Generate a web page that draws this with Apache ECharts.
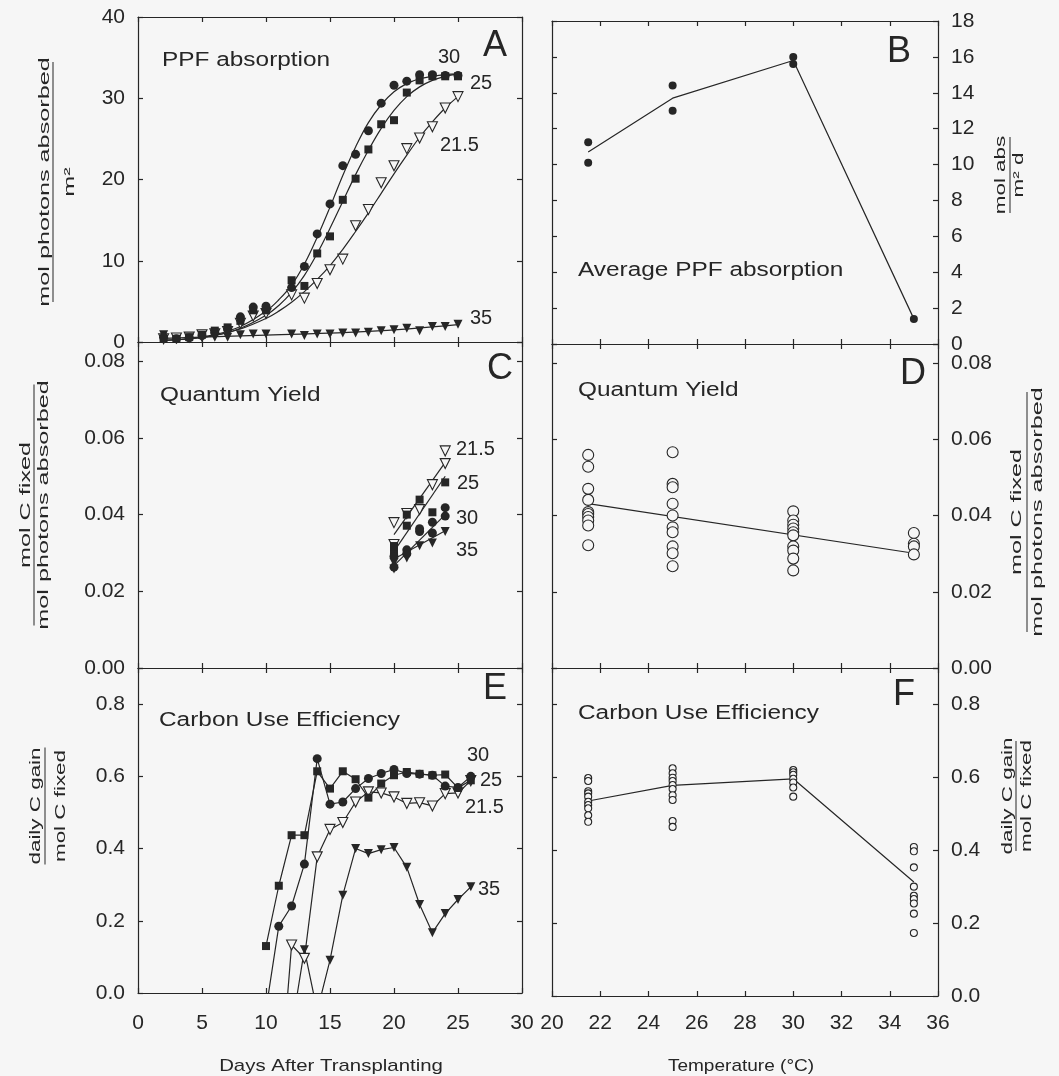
<!DOCTYPE html>
<html><head><meta charset="utf-8">
<script src="https://cdn.jsdelivr.net/npm/echarts/dist/echarts.min.js"></script>
<style>html,body{margin:0;padding:0;background:#f6f6f6}#c{width:1059px;height:1076px}</style>
</head><body><div id="c"></div>
<script>
// ---------- Panel A: PPF absorption vs days ----------
const daysA = [2,3,4,5,6,7,8,9,10,12,13,14,15,16,17,18,19,20,21,22,23,24,25];
const ppf30  = [0.6,0.4,0.5,0.8,1.2,1.6,3.1,4.3,4.4,6.7,9.3,13.3,17.0,21.7,23.1,26.0,29.4,31.6,32.1,32.9,32.9,32.8,32.8];
const ppf25  = [0.4,0.4,0.6,0.9,1.4,1.8,2.6,3.9,3.9,7.6,6.9,10.9,13.0,17.5,20.1,23.7,26.8,27.3,30.7,32.2,32.7,32.7,32.7];
const ppf215 = [0.4,0.5,0.6,0.9,1.0,1.3,2.3,3.2,3.5,5.8,5.4,7.2,8.9,10.2,14.3,16.3,19.6,21.7,23.8,25.1,26.5,28.8,30.2];
const ppf35  = [0.9,0.3,0.4,0.5,0.6,0.6,0.9,1.0,1.0,1.0,0.8,1.0,1.0,1.1,1.1,1.2,1.4,1.5,1.7,1.4,1.9,1.9,2.2];
const fitDays = [2,4,6,8,10,11,12,13,14,15,16,17,18,19,20,21,22,23,24,25];
const fit30  = [0.2,0.4,0.9,1.9,3.8,5.2,7.0,9.6,12.9,16.6,20.5,24.0,27.0,29.2,30.8,31.8,32.4,32.7,32.9,33.0];
const fit25  = [0.2,0.4,0.8,1.7,3.3,4.5,6.1,8.2,10.9,14.0,17.3,20.6,23.6,26.3,28.5,30.2,31.4,32.2,32.7,33.0];
const fit215 = [0.2,0.4,0.8,1.6,2.9,3.8,4.9,6.2,7.7,9.4,11.4,13.6,15.9,18.3,20.7,23.0,25.2,27.1,28.8,30.2];
const fit35Days = [2,10,18,25];
const fit35  = [0.45,0.85,1.3,2.15];

// ---------- Panel B: average PPF absorption vs temperature ----------
const tempB = [21.5,21.5,25,25,30,30,35];
const absB  = [11.25,10.1,14.4,13.0,16.0,15.6,1.4];
const tempMean = [21.5,25,30,35];
const absMean  = [10.7,13.7,15.8,1.4];

// ---------- Panel C: quantum yield vs days ----------
const qy215Days = [20,20,21,22,23,24,24];
const qy215     = [0.0379,0.0322,0.0403,0.0413,0.0478,0.0533,0.0566];
const qy25Days  = [20,20,21,21,22,23,24];
const qy25      = [0.0302,0.0318,0.0371,0.0400,0.0439,0.0406,0.0484];
const qy30Days  = [20,20,21,21,22,22,23,23,24,24];
const qy30      = [0.0291,0.0263,0.0308,0.0298,0.0363,0.0356,0.0380,0.0352,0.0418,0.0396];
const qy35Days  = [20,20,21,22,23,24];
const qy35      = [0.0275,0.0258,0.0287,0.0319,0.0326,0.0356];
const regDays = [20,24];
const reg215 = [0.0348,0.0536];
const reg25  = [0.0304,0.0500];
const reg30  = [0.0267,0.0400];
const reg35  = [0.0284,0.0358];

// ---------- Panel D: quantum yield vs temperature ----------
const qyD215 = [0.0559,0.0528,0.0470,0.0441,0.0409,0.0404,0.0396,0.0387,0.0374,0.0322];
const qyD25  = [0.0566,0.0483,0.0474,0.0431,0.0400,0.0369,0.0356,0.0319,0.0301,0.0267];
const qyD30  = [0.0411,0.0387,0.0376,0.0366,0.0356,0.0348,0.0319,0.0308,0.0287,0.0256];
const qyD35  = [0.0354,0.0326,0.0319,0.0298];
const qyLineT = [21.5,35];
const qyLine  = [0.0431,0.0301];

// ---------- Panel E: carbon use efficiency vs days ----------
const daysE = [10,11,12,13,14,15,16,17,18,19,20,21,22,23,24,25,26];
const cue25  = [0.130,0.297,0.437,0.437,0.614,0.566,0.614,0.592,0.541,0.580,0.603,0.612,0.607,0.603,0.605,0.568,0.589];
const cue30  = [-0.046,0.185,0.241,0.357,0.649,0.523,0.529,0.566,0.594,0.608,0.619,0.608,0.606,0.603,0.573,0.569,0.600];
const cue215 = [null,-0.31,0.133,0.096,0.377,0.453,0.472,0.529,0.557,0.554,0.543,0.525,0.527,0.518,0.552,0.554,0.588];
const cue35  = [null,null,-0.10,0.120,-0.05,0.091,0.271,0.400,0.386,0.397,0.403,0.348,0.245,0.167,0.220,0.259,0.294];

// ---------- Panel F: carbon use efficiency vs temperature ----------
const cueF215 = [0.598,0.590,0.562,0.556,0.547,0.533,0.524,0.515,0.496,0.478];
const cueF25  = [0.625,0.611,0.599,0.590,0.579,0.568,0.551,0.538,0.480,0.464];
const cueF30  = [0.620,0.614,0.607,0.596,0.586,0.572,0.547];
const cueF35  = [0.409,0.397,0.353,0.300,0.275,0.266,0.254,0.226,0.173];
const cueLineT = [21.5,25,30,35];
const cueLine  = [0.535,0.578,0.596,0.313];

// ---------- tick labels ----------
const xTicksDays = {min:0, max:30, interval:5};
const xTicksTemp = {min:20, max:36, interval:2};

const INK = '#262626', BG = '#f6f6f6', FF = '"Liberation Sans", Arial, sans-serif';
const grids = [
  {left:138, top:17,  width:384, height:325},
  {left:552, top:21,  width:386, height:323},
  {left:138, top:342, width:384, height:326},
  {left:552, top:344, width:386, height:324},
  {left:138, top:668, width:384, height:325},
  {left:552, top:668, width:386, height:328}
];
function multFmt(step, dec){ return v => Math.abs(v/step - Math.round(v/step)) > 1e-6 ? '' : v.toFixed(dec); }
const yCfg = [
  {min:0, max:40, interval:10, fmt:multFmt(10,0)},
  {min:0, max:18, interval:2, fmt:multFmt(2,0)},
  {min:0, max:0.085, interval:0.02, fmt:multFmt(0.02,2)},
  {min:0, max:0.085, interval:0.02, fmt:multFmt(0.02,2)},
  {min:0, max:0.9, interval:0.2, fmt:multFmt(0.2,1)},
  {min:0, max:0.9, interval:0.2, fmt:multFmt(0.2,1)}
];
const lineSt = {color:INK, width:1.2};
const xAxes = [], yAxes = [];
grids.forEach((g,i)=>{
  const xc = (i%2===0) ? xTicksDays : xTicksTemp;
  ['bottom','top'].forEach(pos=>{
    xAxes.push({gridIndex:i, type:'value', position:pos, min:xc.min, max:xc.max, interval:xc.interval,
      axisLine:{show:true, onZero:false, lineStyle:lineSt},
      axisTick:{show:true, inside:true, length:5, lineStyle:lineSt},
      axisLabel:{show: pos==='bottom' && i>=4, fontSize:21, color:INK, fontFamily:FF, margin: i===4?20:17},
      splitLine:{show:false}});
  });
  const yc = yCfg[i];
  ['left','right'].forEach(pos=>{
    const labelled = (i%2===0 && pos==='left') || (i%2===1 && pos==='right');
    yAxes.push({gridIndex:i, type:'value', position:pos, min:yc.min, max:yc.max, interval:yc.interval,
      axisLine:{show:true, onZero:false, lineStyle:lineSt},
      axisTick:{show:true, inside:true, length:5, lineStyle:lineSt},
      axisLabel:{show:labelled, fontSize:21, color:INK, fontFamily:FF, margin:13, formatter:yc.fmt},
      splitLine:{show:false}});
  });
});
const zip = (xs, ys) => xs.map((x,k)=>[x, ys[k]]).filter(p=>p[1]!==null);
const rep = (x, ys) => ys.map(y=>[x,y]);
function sc(gi, data, symbol, size, filled, rot){
  return {type:'scatter', xAxisIndex:2*gi, yAxisIndex:2*gi, data, symbol, symbolSize:size, symbolRotate:rot||0,
    itemStyle:{color: filled?INK:BG, borderColor:INK, borderWidth: filled?0:1.1, opacity:1}, z:4, silent:true, animation:false};
}
function ln(gi, data, smooth, symbol, size, filled, rot){
  return {type:'line', xAxisIndex:2*gi, yAxisIndex:2*gi, data, smooth: smooth||false,
    showSymbol: !!symbol, symbol: symbol||'none', symbolSize:size||0, symbolRotate:rot||0,
    lineStyle:{color:INK, width:1.2}, itemStyle:{color: filled?INK:BG, borderColor:INK, borderWidth: filled?0:1.1},
    z:3, silent:true, animation:false, clip:true};
}
const series = [
  // A
  ln(0, zip(fitDays, fit30), 0.4), ln(0, zip(fitDays, fit25), 0.4), ln(0, zip(fitDays, fit215), 0.4), ln(0, zip(fit35Days, fit35), 0.4),
  sc(0, zip(daysA, ppf215), 'triangle', 10, false, 180),
  sc(0, zip(daysA, ppf35), 'triangle', 9, true, 180),
  sc(0, zip(daysA, ppf25), 'rect', 8, true),
  sc(0, zip(daysA, ppf30), 'circle', 9, true),
  // B
  ln(1, zip(tempMean, absMean)),
  sc(1, zip(tempB, absB), 'circle', 8, true),
  // C
  ln(2, zip(regDays, reg215)), ln(2, zip(regDays, reg25)), ln(2, zip(regDays, reg30)), ln(2, zip(regDays, reg35)),
  sc(2, zip(qy215Days, qy215), 'triangle', 10, false, 180),
  sc(2, zip(qy25Days, qy25), 'rect', 8, true),
  sc(2, zip(qy30Days, qy30), 'circle', 9, true),
  sc(2, zip(qy35Days, qy35), 'triangle', 9, true, 180),
  // D
  ln(3, zip(qyLineT, qyLine)),
  sc(3, rep(21.5, qyD215), 'circle', 11, false),
  sc(3, rep(25, qyD25), 'circle', 11, false),
  sc(3, rep(30, qyD30), 'circle', 11, false),
  sc(3, rep(35, qyD35), 'circle', 11, false),
  // E
  ln(4, zip(daysE, cue215), false, 'triangle', 10, false, 180),
  ln(4, zip(daysE, cue35), false, 'triangle', 9, true, 180),
  ln(4, zip(daysE, cue25), false, 'rect', 8, true),
  ln(4, zip(daysE, cue30), false, 'circle', 9, true),
  // F
  ln(5, zip(cueLineT, cueLine)),
  sc(5, rep(21.5, cueF215), 'circle', 7, false),
  sc(5, rep(25, cueF25), 'circle', 7, false),
  sc(5, rep(30, cueF30), 'circle', 7, false),
  sc(5, rep(35, cueF35), 'circle', 7, false)
];

// ---------- annotation text ----------
function txt(x, y, s, size, sx, align){
  return {type:'text', x, y, scaleX: sx||1, silent:true,
    style:{text:s, fontSize:size, fontFamily:FF, fill:INK, align:align||'left', verticalAlign:'middle'}};
}
function frac(cx, cy, num, den, dn, dd, L, sx){
  return {type:'group', x:cx, y:cy, rotation:Math.PI/2, scaleX:sx, silent:true, children:[
    {type:'text', x:0, y:dn, style:{text:num, fontSize:14, fontFamily:FF, fill:INK, align:'center', verticalAlign:'middle'}},
    {type:'line', shape:{x1:-L/2/sx, y1:0, x2:L/2/sx, y2:0}, style:{stroke:INK, lineWidth:1}},
    {type:'text', x:0, y:dd, style:{text:den, fontSize:14, fontFamily:FF, fill:INK, align:'center', verticalAlign:'middle'}}
  ]};
}
const graphic = [
  txt(162, 60, 'PPF absorption', 20, 1.22),
  txt(578, 270, 'Average PPF absorption', 20, 1.22),
  txt(160, 395, 'Quantum Yield', 20, 1.22),
  txt(578, 390, 'Quantum Yield', 20, 1.22),
  txt(159, 720, 'Carbon Use Efficiency', 20, 1.22),
  txt(578, 713, 'Carbon Use Efficiency', 20, 1.22),
  txt(483, 46, 'A', 36), txt(887, 52, 'B', 36), txt(487, 369, 'C', 36),
  txt(900, 374, 'D', 36), txt(483, 689, 'E', 36), txt(893, 695, 'F', 36),
  txt(438, 57, '30', 20), txt(470, 83, '25', 20), txt(440, 145, '21.5', 20), txt(470, 318, '35', 20),
  txt(456, 449, '21.5', 20), txt(457, 483, '25', 20), txt(456, 518, '30', 20), txt(456, 550, '35', 20),
  txt(467, 755, '30', 20), txt(480, 780, '25', 20), txt(465, 807, '21.5', 20), txt(478, 889, '35', 20),
  txt(331, 1066, 'Days After Transplanting', 17, 1.2, 'center'),
  txt(741, 1066, 'Temperature (°C)', 17, 1.12, 'center'),
  frac(53, 182, 'mol photons absorbed', 'm²', -8, 17, 240, 1.8),
  frac(34, 505, 'mol C fixed', 'mol photons absorbed', -8, 10, 241, 1.8),
  frac(45, 806, 'daily C gain', 'mol C fixed', -9, 16, 117, 1.6),
  frac(1010, 175, 'mol abs', 'm² d', -9, 9, 76, 1.6),
  frac(1027, 512, 'mol C fixed', 'mol photons absorbed', -10, 11, 240, 1.8),
  frac(1016, 796, 'daily C gain', 'mol C fixed', -8, 11, 110, 1.6)
];

const chart = echarts.init(document.getElementById('c'), null, {renderer:'canvas'});
chart.setOption({
  backgroundColor: BG,
  animation: false,
  grid: grids.map(g=>Object.assign({containLabel:false, outerBoundsMode:'none'}, g)),
  xAxis: xAxes,
  yAxis: yAxes,
  series: series,
  graphic: graphic
});
</script>
</body></html>
